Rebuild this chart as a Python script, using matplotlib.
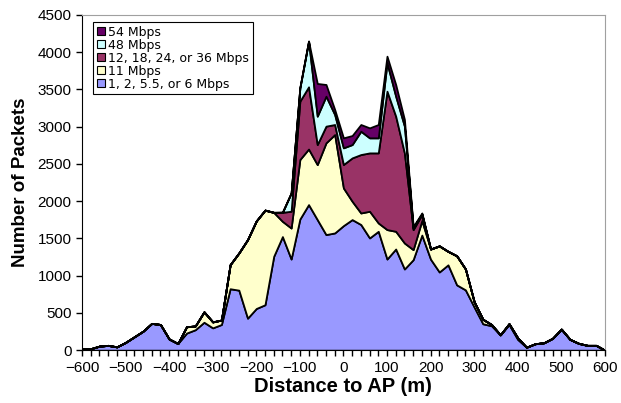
import numpy as np
import matplotlib
matplotlib.use("Agg")
import matplotlib.pyplot as plt
from matplotlib.patches import Patch

plt.rcParams['font.family'] = ['Liberation Sans', 'DejaVu Sans']

distance = np.arange(-600, 601, 20)

# packets per rate group (stacked, bottom to top)
rate_1_6 = [16, 20, 55, 65, 45, 105, 180, 255, 360, 345, 150, 90, 230, 275, 375, 300, 345, 825, 806, 430,
            560, 610, 1260, 1525, 1224, 1760, 1954, 1753, 1552, 1574, 1672, 1753, 1687, 1507, 1596, 1224, 1358, 1090, 1215, 1545,
            1222, 1050, 1146, 877, 810, 580, 355, 328, 206, 345, 145, 40, 87, 100, 160, 283, 145, 92, 65, 65, 0]
rate_11 = [0, 0, 0, 0, 0, 0, 0, 0, 0, 0, 0, 0, 85, 50, 140, 80, 60, 323, 499, 1054,
           1175, 1270, 590, 205, 416, 799, 746, 738, 1231, 1320, 506, 246, 155, 358, 112, 395, 238, 349, 135, 195,
           136, 350, 181, 390, 280, 70, 60, 16, 0, 11, 20, 0, 0, 0, 0, 0, 0, 0, 0, 0, 0]
rate_12_36 = [0] * 23 + [121, 225, 783, 835, 269, 224, 135, 314, 582, 784, 783, 940, 1857, 1545, 1209, 268, 80] + [0] * 21
rate_48 = [0] * 24 + [246, 179, 613, 381, 402, 134, 224, 179, 313, 202, 202, 381, 268, 359, 22, 10] + [0] * 21
rate_54 = [0] * 27 + [439, 157, 67, 134, 121, 90, 134, 179, 89, 157, 89, 20, 12] + [0] * 21

labels = ['1, 2, 5.5, or 6 Mbps', '11 Mbps', '12, 18, 24, or 36 Mbps', '48 Mbps', '54 Mbps']
colors = ['#9999FF', '#FFFFCC', '#993366', '#CCFFFF', '#660066']

fig = plt.figure(figsize=(6.21, 4.03), dpi=100)
ax = fig.add_axes([0.132, 0.131, 0.842, 0.832])

ax.stackplot(distance, rate_1_6, rate_11, rate_12_36, rate_48, rate_54,
             colors=colors, edgecolor='black', linewidth=1.3)

ax.set_xlim(-600, 600)
ax.set_ylim(0, 4500)
ax.set_xticks(np.arange(-600, 601, 100))
ax.set_xticks(np.arange(-600, 601, 20), minor=True)
ax.set_yticks(np.arange(0, 4501, 500))
ax.tick_params(axis='both', labelsize=11, direction='out', length=4, width=1)
ax.tick_params(axis='x', which='minor', length=4, width=1)
ax.tick_params(axis='x', which='major', length=4, pad=4)

for side in ['top', 'right']:
    ax.spines[side].set_color('#a0a0a0')
for side in ['left', 'bottom']:
    ax.spines[side].set_color('black')

ax.set_xlabel('Distance to AP (m)', fontsize=14.5, fontweight='bold', labelpad=1)
ax.set_ylabel('Number of Packets', fontsize=13.5, fontweight='bold', labelpad=6)

handles = [Patch(facecolor=c, edgecolor='black', linewidth=0.8) for c in colors]
leg = ax.legend(handles[::-1], labels[::-1], loc='upper left', bbox_to_anchor=(0.021, 0.979),
                prop={'family': 'DejaVu Sans', 'size': 9},
                frameon=True, fancybox=False, edgecolor='black', framealpha=1,
                handlelength=0.65, handleheight=0.65, handletextpad=0.25, labelspacing=0.0,
                borderpad=0.3, borderaxespad=0)
leg.get_frame().set_linewidth(0.8)

fig.savefig('out.png', dpi=100)
